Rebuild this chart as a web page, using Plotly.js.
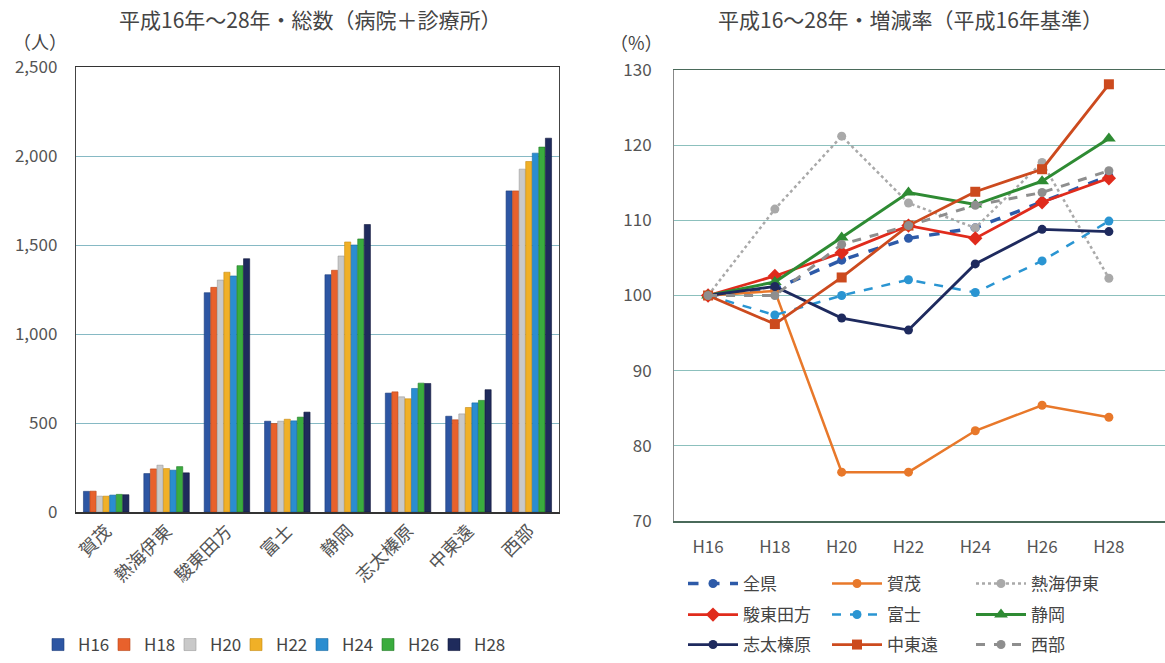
<!DOCTYPE html>
<html>
<head>
<meta charset="utf-8">
<script src="https://cdn.plot.ly/plotly-3.0.1.min.js"></script>
<style>html,body{margin:0;padding:0;background:#fff;}#chart{width:1165px;height:663px;}</style>
</head>
<body>
<div id="chart"></div>
<script>
// ---- data ----
var regions = ['賀茂','熱海伊東','駿東田方','富士','静岡','志太榛原','中東遠','西部'];
var years = ['H16','H18','H20','H22','H24','H26','H28'];

var countH16 = [116, 216, 1232, 510, 1333, 668, 538, 1804];
var countH18 = [117, 242, 1262, 497, 1358, 675, 518, 1804];
var countH20 = [89, 263, 1303, 510, 1438, 647, 551, 1926];
var countH22 = [89, 244, 1347, 521, 1517, 636, 587, 1969];
var countH24 = [95, 235, 1326, 512, 1500, 694, 613, 2016];
var countH26 = [99, 255, 1384, 533, 1534, 724, 627, 2050];
var countH28 = [97, 220, 1423, 561, 1615, 722, 687, 2100];

var rateZenken   = [100, 100.9, 104.7, 107.6, 109.0, 112.5, 115.9];
var rateKamo     = [100, 100.6, 76.5, 76.5, 82.0, 85.4, 83.8];
var rateAtami    = [100, 111.5, 121.2, 112.3, 109.0, 117.7, 102.3];
var rateSunto    = [100, 102.6, 105.7, 109.3, 107.6, 112.4, 115.6];
var rateFuji     = [100, 97.4, 100.0, 102.1, 100.4, 104.6, 109.9];
var rateShizuoka = [100, 101.8, 107.7, 113.7, 112.1, 115.2, 120.9];
var rateShida    = [100, 101.2, 97.0, 95.4, 104.2, 108.8, 108.5];
var rateChuto    = [100, 96.2, 102.4, 109.3, 113.8, 116.8, 128.1];
var rateSeibu    = [100, 100.0, 106.8, 109.3, 112.0, 113.7, 116.6];

var leftTicks = ['0','500','1,000','1,500','2,000','2,500'];
var leftTickVals = [0, 500, 1000, 1500, 2000, 2500];
var rightTickVals = [70, 80, 90, 100, 110, 120, 130];

// ---- styles ----
var FONT = '"Noto Sans CJK JP", "Noto Sans", sans-serif';
var barSeries = [
  {name:'H16', y:countH16, color:'#2d56a3', line:'#1d3d7a'},
  {name:'H18', y:countH18, color:'#e8612c', line:'#b84418'},
  {name:'H20', y:countH20, color:'#c9c9c9', line:'#9a9a9a'},
  {name:'H22', y:countH22, color:'#f0b027', line:'#c58a10'},
  {name:'H24', y:countH24, color:'#2a8dd0', line:'#1a6aa3'},
  {name:'H26', y:countH26, color:'#3aac3e', line:'#237a27'},
  {name:'H28', y:countH28, color:'#1f2b5c', line:'#10183a'}
];

var W = 1165, H = 663;
function px(x){ return x / W; }
function py(y){ return (H - y) / H; }
var FONT17 = {family:FONT, size:17, color:'#444'};

var traces = [];
var barLegends = {};
barSeries.forEach(function(s, i){
  var key = 'legend' + (5 + i);
  barLegends[key] = {orientation:'h', x:px(38 + 66 * i), xanchor:'left', y:py(645), yanchor:'middle',
                     font:FONT17, bgcolor:'rgba(0,0,0,0)', entrywidth:40};
  traces.push({
    type:'bar', x:regions, y:s.y, name:s.name,
    marker:{color:s.color, line:{color:s.line, width:0.6}},
    xaxis:'x', yaxis:'y', legend:key, hoverinfo:'y'
  });
});

var lineSeries = [
  {name:'全県',     y:rateZenken,   color:'#2d5aa8', dash:'dash', width:3.5, symbol:'circle',   size:9,  legend:'legend2'},
  {name:'賀茂',     y:rateKamo,     color:'#e8782a', dash:'solid', width:2.5, symbol:'circle',  size:9,  legend:'legend2'},
  {name:'熱海伊東', y:rateAtami,    color:'#a9a9a9', dash:'dot',  width:2.5, symbol:'circle',   size:9,  legend:'legend2'},
  {name:'駿東田方', y:rateSunto,    color:'#e02b1c', dash:'solid', width:2.8, symbol:'diamond', size:11, legend:'legend3'},
  {name:'富士',     y:rateFuji,     color:'#2a95d2', dash:'dash', width:2.5, symbol:'circle',   size:9,  legend:'legend3'},
  {name:'静岡',     y:rateShizuoka, color:'#2e8b33', dash:'solid', width:3, symbol:'triangle-up', size:12, legend:'legend3'},
  {name:'志太榛原', y:rateShida,    color:'#1e2a5e', dash:'solid', width:2.8, symbol:'circle',  size:9,  legend:'legend4'},
  {name:'中東遠',   y:rateChuto,    color:'#cc4a1e', dash:'solid', width:2.8, symbol:'square',  size:10, legend:'legend4'},
  {name:'西部',     y:rateSeibu,    color:'#8e8e8e', dash:'dash', width:3, symbol:'circle',     size:9,  legend:'legend4'}
];
lineSeries.forEach(function(s){
  traces.push({
    type:'scatter', mode:'lines+markers', x:years, y:s.y, name:s.name,
    line:{color:s.color, dash:s.dash, width:s.width},
    marker:{color:s.color, symbol:s.symbol, size:s.size},
    xaxis:'x2', yaxis:'y2', legend:s.legend, hoverinfo:'y'
  });
});

function rowLegend(y){
  return {orientation:'h', x:px(683), xanchor:'left', y:py(y), yanchor:'middle',
          font:FONT17, bgcolor:'rgba(0,0,0,0)', entrywidth:79, itemwidth:50,
          traceorder:'normal'};
}

var layout = {
  width:W, height:H,
  margin:{l:0, r:0, t:0, b:0},
  paper_bgcolor:'#fff', plot_bgcolor:'#fff',
  font:{family:FONT, color:'#555'},
  bargap:0.24, bargroupgap:0.06,
  xaxis:{domain:[px(76), px(559)], anchor:'y', type:'category', range:[-0.5, 7.5],
         tickangle:-45, tickfont:{family:FONT, size:18, color:'#555'},
         showline:true, linecolor:'#333', linewidth:1.5, mirror:true,
         ticks:'', showgrid:false, fixedrange:true},
  yaxis:{domain:[py(512), py(67)], anchor:'x', range:[0, 2500],
         tickvals:leftTickVals, ticktext:leftTicks,
         tickfont:{family:FONT, size:17, color:'#555'}, ticklabelstandoff:14,
         showline:true, linecolor:'#444', linewidth:1.2, mirror:true,
         showgrid:true, gridcolor:'#86b9c4', gridwidth:1, zeroline:false, ticks:''},
  xaxis2:{domain:[px(674), 1], anchor:'y2', type:'category', range:[-0.51, 6.84],
          tickfont:{family:FONT, size:17, color:'#555'}, ticklabelstandoff:10,
          showline:true, linecolor:'#4a6a5a', linewidth:1.5, mirror:true,
          ticks:'', showgrid:false},
  yaxis2:{domain:[py(521), py(70)], anchor:'x2', range:[70, 130],
          tickvals:rightTickVals,
          tickfont:{family:FONT, size:17, color:'#555'}, ticklabelstandoff:18,
          showline:true, linecolor:'#888', linewidth:1, mirror:false,
          showgrid:true, gridcolor:'#8cc0bd', gridwidth:1, zeroline:false, ticks:''},
  legend2:rowLegend(584),
  legend3:rowLegend(615),
  legend4:rowLegend(645),
  annotations:[
    {text:'平成16年～28年・総数（病院＋診療所）', xref:'paper', yref:'paper', x:px(310), y:py(19),
     showarrow:false, font:{family:FONT, size:21, color:'#444'}, xanchor:'center', yanchor:'middle'},
    {text:'平成16～28年・増減率（平成16年基準）', xref:'paper', yref:'paper', x:px(910), y:py(19),
     showarrow:false, font:{family:FONT, size:21, color:'#444'}, xanchor:'center', yanchor:'middle'},
    {text:'（人）', xref:'paper', yref:'paper', x:px(40), y:py(41),
     showarrow:false, font:{family:FONT, size:18, color:'#444'}, xanchor:'center', yanchor:'middle'},
    {text:'（%）', xref:'paper', yref:'paper', x:px(636), y:py(42),
     showarrow:false, font:{family:FONT, size:18, color:'#444'}, xanchor:'center', yanchor:'middle'}
  ],
  showlegend:true
};
Object.keys(barLegends).forEach(function(k){ layout[k] = barLegends[k]; });

Plotly.newPlot('chart', traces, layout, {staticPlot:true, displayModeBar:false});
</script>
</body>
</html>
